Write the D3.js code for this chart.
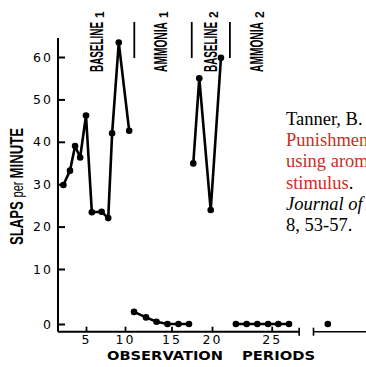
<!DOCTYPE html>
<html>
<head>
<meta charset="utf-8">
<script src="https://cdn.jsdelivr.net/npm/d3@7"></script>
<style>
  body { margin: 0; background: #fff; }
  svg { display: block; }
</style>
</head>
<body>
<div id="chart"></div>
<script>
// data (x = observation period, y = slaps per minute)
const baseline1Period = [2.1, 2.95, 3.6, 4.25, 5, 5.75, 7.0, 7.85, 8.35, 9.2, 10.45];
const baseline1Slaps = [29.8, 33.2, 39, 36.3, 46.2, 23.4, 23.5, 22, 42, 63.4, 42.6];
const ammonia1Period = [10.97, 12.26, 13.39, 14.57, 15.86, 17.16];
const ammonia1Slaps = [2.2, 1.2, 0.4, 0, 0, 0];
const baseline2Period = [17.69, 18.43, 19.84, 20.75];
const baseline2Slaps = [34.9, 55, 23.9, 59.8];
const ammonia2Period = [22.0, 22.9, 23.8, 24.7, 25.55, 26.45];
const ammonia2Slaps = [0, 0, 0, 0, 0, 0];
const followUpPeriod = [29.7];
const followUpSlaps = [0];

const xTickValues = [5, 10, 15, 20, 25];
const yTickValues = [0, 10, 20, 30, 40, 50, 60];

const phaseNames = ["BASELINE", "AMMONIA", "BASELINE", "AMMONIA"];
const phaseSubs = ["1", "1", "2", "2"];
const phaseLabelAt = [7.18, 14.52, 20.42, 24.25];
const phaseDividers = [11, 17.5, 21.5];

const citeLines = [
  [{ t: "Tanner, B. A., & Zeiler, M. (1975).", c: "#000" }],
  [{ t: "Punishment of self-injurious behavior", c: "#c8301e" }],
  [{ t: "using aromatic ammonia as the aversive", c: "#c8301e" }],
  [{ t: "stimulus", c: "#c8301e" }, { t: ".", c: "#000" }],
  [{ t: "Journal of Applied Behavior Analysis,", c: "#000", i: true }],
  [{ t: "8, 53-57.", c: "#000" }]
];

const W = 366, H = 367;
const svg = d3.select("#chart").append("svg").attr("width", W).attr("height", H);

// the original axis is hand drawn, so the scales are piecewise
const x = d3.scaleLinear().domain(xTickValues).range([86, 125, 171.5, 212, 271.7]);
const y = d3.scaleLinear().domain([0, 10, 60]).range([324, 269, 57]);

const axisX = 58, axisY = 331.7, axisTop = 38;
const axisEnd = 27.3, breakStart = 28.5;
const condensed = "'Liberation Sans Narrow', 'Liberation Sans', sans-serif";

// squeeze a text horizontally to a given width (in its own frame)
function squeeze(sel, width) {
  const w = sel.node().getComputedTextLength();
  const t = sel.attr("transform") || "";
  sel.attr("transform", `${t} scale(${width / w},1)`);
}

// y axis
svg.append("line")
  .attr("x1", axisX).attr("x2", axisX).attr("y1", axisTop).attr("y2", axisY)
  .attr("stroke", "#000").attr("stroke-width", 2);

const gy = svg.append("g")
  .attr("transform", `translate(${axisX},0)`)
  .call(d3.axisLeft(y).tickValues(yTickValues).tickSize(-7).tickPadding(5).tickSizeOuter(0));
gy.select(".domain").remove();
gy.selectAll("line").attr("stroke-width", 2);
gy.selectAll("text")
  .style("font-family", "DejaVu Sans")
  .style("font-size", "12.5px")
  .style("letter-spacing", "2px")
  .attr("fill", "#000");

// x axis
svg.append("line")
  .attr("x1", axisX).attr("x2", x(axisEnd)).attr("y1", axisY).attr("y2", axisY)
  .attr("stroke", "#000").attr("stroke-width", 2);
svg.append("line")
  .attr("x1", x(breakStart)).attr("x2", W).attr("y1", axisY).attr("y2", axisY)
  .attr("stroke", "#000").attr("stroke-width", 1.6);
[axisEnd, breakStart].forEach(p => {
  svg.append("line")
    .attr("x1", x(p)).attr("x2", x(p)).attr("y1", axisY - 4).attr("y2", axisY + 4)
    .attr("stroke", "#000").attr("stroke-width", 1.6);
});

const gx = svg.append("g")
  .attr("transform", `translate(0,${axisY})`)
  .call(d3.axisBottom(x).tickValues(xTickValues).tickSize(-5).tickPadding(3).tickSizeOuter(0));
gx.select(".domain").remove();
gx.selectAll("line").attr("stroke-width", 1.8);
gx.selectAll("text")
  .style("font-family", "DejaVu Sans")
  .style("font-size", "12.5px")
  .style("letter-spacing", "2px")
  .attr("fill", "#000");

// axis titles
svg.append("text")
  .attr("x", 107).attr("y", 360)
  .attr("textLength", 116).attr("lengthAdjust", "spacingAndGlyphs")
  .style("font-family", "DejaVu Sans").style("font-weight", "bold").style("font-size", "11.5px")
  .text("OBSERVATION");
svg.append("text")
  .attr("x", 242).attr("y", 360)
  .attr("textLength", 73).attr("lengthAdjust", "spacingAndGlyphs")
  .style("font-family", "DejaVu Sans").style("font-weight", "bold").style("font-size", "11.5px")
  .text("PERIODS");

const yTitle = svg.append("text")
  .attr("transform", "translate(23,245) rotate(-90)")
  .style("font-family", condensed)
  .style("font-size", "19px");
yTitle.append("tspan").style("font-weight", "bold").text("SLAPS ");
yTitle.append("tspan").style("font-size", "16px").text("per ");
yTitle.append("tspan").style("font-weight", "bold").text("MINUTE");
squeeze(yTitle, 117);

// phase labels and dividers
phaseNames.forEach((name, i) => {
  const g = svg.append("g").attr("transform", `translate(${x(phaseLabelAt[i])},72) rotate(-90)`);
  const lab = g.append("text")
    .style("font-family", condensed)
    .style("font-weight", "bold").style("font-size", "18px")
    .text(name);
  squeeze(lab, 50);
  g.append("text")
    .attr("x", 54).attr("y", 1)
    .style("font-family", condensed)
    .style("font-weight", "bold").style("font-size", "12px")
    .text(phaseSubs[i]);
});

svg.selectAll(".divider")
  .data(phaseDividers)
  .enter()
  .append("line")
  .attr("class", "divider")
  .attr("x1", d => x(d)).attr("x2", d => x(d))
  .attr("y1", 22).attr("y2", 58)
  .attr("stroke", "#000").attr("stroke-width", 1.8);

// data series
const series = [
  [baseline1Period, baseline1Slaps],
  [ammonia1Period, ammonia1Slaps],
  [baseline2Period, baseline2Slaps],
  [ammonia2Period, ammonia2Slaps],
  [followUpPeriod, followUpSlaps]
].map(([px, py]) => px.map((p, i) => [p, py[i]]));

const line = d3.line().x(d => x(d[0])).y(d => y(d[1]));

series.forEach(pts => {
  svg.append("path")
    .datum(pts)
    .attr("d", line)
    .attr("fill", "none")
    .attr("stroke", "#000")
    .attr("stroke-width", 2.6)
    .attr("stroke-linejoin", "round");
  svg.selectAll(null)
    .data(pts)
    .enter()
    .append("circle")
    .attr("cx", d => x(d[0]))
    .attr("cy", d => y(d[1]))
    .attr("r", 3.3)
    .attr("fill", "#000");
});

// citation text
const cite = svg.append("text")
  .style("font-family", "'Liberation Serif', 'Times New Roman', serif")
  .style("font-size", "18.5px");
citeLines.forEach((parts, i) => {
  parts.forEach((part, j) => {
    const ts = cite.append("tspan").attr("fill", part.c).text(part.t);
    if (part.i) ts.style("font-style", "italic");
    if (j === 0) ts.attr("x", 286).attr("y", 125 + i * 21.2);
  });
});
</script>
</body>
</html>
